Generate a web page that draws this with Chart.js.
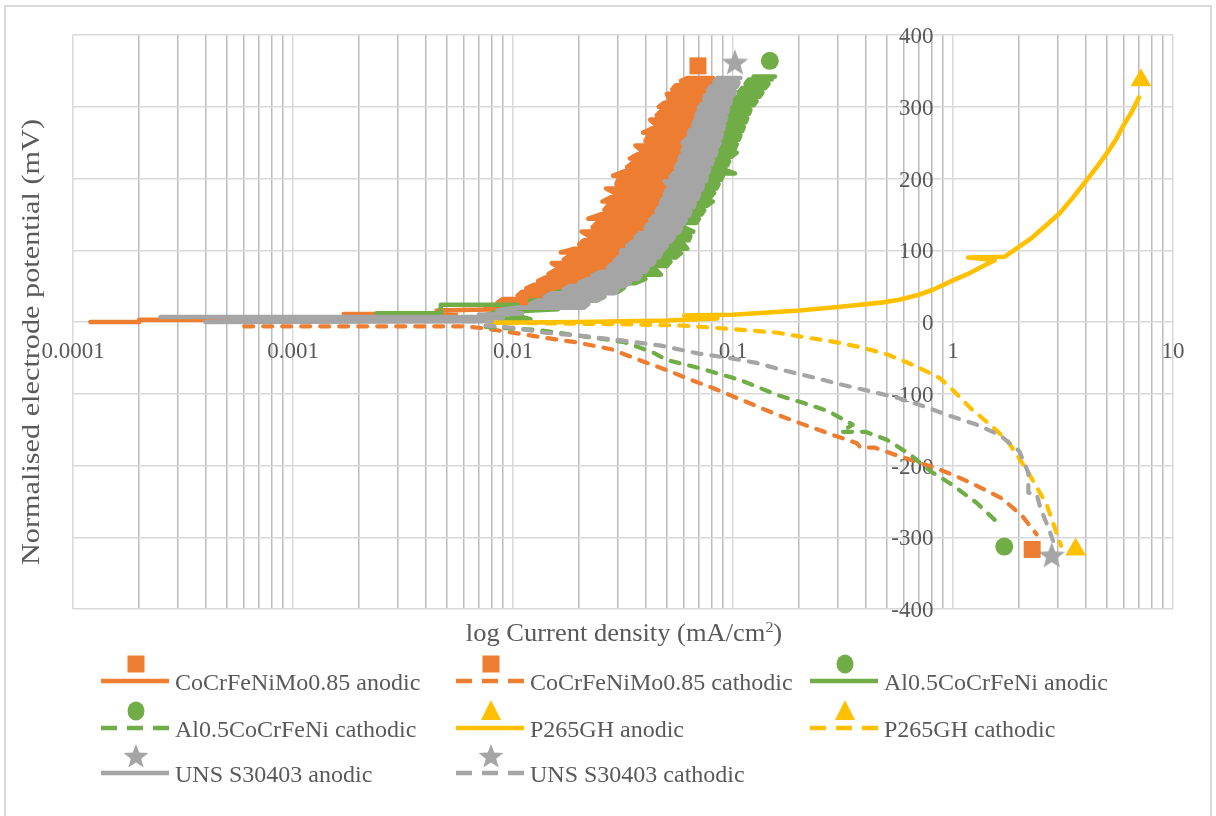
<!DOCTYPE html>
<html>
<head>
<meta charset="utf-8">
<script src="https://cdn.jsdelivr.net/npm/chart.js@4.4.1/dist/chart.umd.min.js"></script>
<style>
  html,body{margin:0;padding:0;background:#fff;}
  #wrap{position:relative;width:1216px;height:816px;overflow:hidden;font-family:'Liberation Serif','Times New Roman',serif;color:#595959;}
  #frame{position:absolute;left:4px;top:5px;width:1208px;height:840px;border:2px solid #d9d9d9;box-sizing:border-box;}
  canvas{position:absolute;left:0;top:0;}
  .title{position:absolute;font-size:25px;white-space:nowrap;line-height:30px;}
  .lg{position:absolute;font-size:24px;white-space:nowrap;line-height:28px;height:28px;}
  .lgicon{position:absolute;}
</style>
</head>
<body>
<div id="wrap">
  <div id="frame"></div>
  <canvas id="c" width="1216" height="816"></canvas>
  <div class="title" id="xt" style="left:624px;top:618px;transform:translateX(-50%) scaleX(1.06);">log Current density (mA/cm<sup style="font-size:15px;vertical-align:9px;line-height:0">2</sup>)</div>
  <div class="title" id="yt" style="left:31px;top:342px;transform:translate(-50%,-50%) rotate(-90deg) scaleX(1.21);">Normalised electrode potential (mV)</div>
  <div id="legend"></div>
</div>
<script>
// ---------- axis tick labels ----------
const xDecadeLabels = ['0.0001', '0.001', '0.01', '0.1', '1', '10'];
const yTickValues = [-400, -300, -200, -100, 0, 100, 200, 300, 400];

// ---------- series names ----------
const seriesNames = [
  'CoCrFeNiMo0.85 anodic', 'CoCrFeNiMo0.85 cathodic', 'Al0.5CoCrFeNi anodic',
  'Al0.5CoCrFeNi cathodic', 'P265GH anodic', 'P265GH cathodic',
  'UNS S30403 anodic', 'UNS S30403 cathodic'
];

// ---------- data: [current density mA/cm2, potential mV] ----------
const moAnodic = [
  [0.00012,0],[0.0002,0],[0.0002,3],[0.0004,3],[0.0048,3],[0.0017,11],[0.0026,11],[0.0055,12],[0.0045,16],[0.009,18],
  [0.0075,22],[0.016,22],[0.014,27],[0.0085,27],[0.009,32],[0.019,32],[0.020,37],[0.0105,37],[0.011,42],[0.022,42],
  [0.024,47],[0.0115,47],[0.0125,52],[0.026,52],[0.027,57],[0.013,57],[0.014,62],[0.029,62],[0.030,67],[0.0145,67],
  [0.0155,72],[0.031,72],[0.033,77],[0.016,77],[0.015,82],[0.032,82],[0.035,87],[0.017,87],[0.018,92],[0.036,92],
  [0.037,97],[0.0165,97],[0.019,102],[0.038,102],[0.039,108],[0.020,108],[0.021,114],[0.040,114],[0.042,120],[0.022,120],
  [0.0205,126],[0.043,126],[0.044,132],[0.023,132],[0.024,138],[0.045,138],[0.046,144],[0.022,144],[0.025,150],[0.047,150],
  [0.048,156],[0.026,156],[0.027,162],[0.049,162],[0.050,168],[0.0255,168],[0.028,174],[0.052,174],[0.053,180],[0.029,180],
  [0.0265,186],[0.054,186],[0.055,192],[0.0295,192],[0.030,198],[0.056,198],[0.057,204],[0.0285,204],[0.032,210],[0.058,210],
  [0.059,216],[0.033,216],[0.035,222],[0.060,222],[0.061,228],[0.034,228],[0.037,234],[0.062,234],[0.063,240],[0.038,240],
  [0.036,246],[0.064,246],[0.065,252],[0.040,252],[0.041,258],[0.066,258],[0.067,264],[0.039,264],[0.043,270],[0.068,270],
  [0.069,276],[0.044,276],[0.042,282],[0.070,282],[0.071,288],[0.045,288],[0.047,294],[0.072,294],[0.073,300],[0.046,300],
  [0.049,306],[0.074,306],[0.075,312],[0.051,312],[0.050,318],[0.076,318],[0.078,324],[0.053,324],[0.055,330],[0.079,330],
  [0.080,336],[0.058,336],[0.062,340],[0.081,340]
];
const moCathodic = [
  [0.0006,-6],[0.003,-6],[0.006,-6],[0.0075,-9],[0.01,-15],[0.014,-22],[0.02,-29],[0.028,-38],[0.039,-55],[0.05,-67],
  [0.066,-82],[0.081,-92],[0.097,-102],[0.123,-115],[0.158,-129],[0.21,-143],[0.27,-155],[0.366,-169],[0.38,-175],[0.44,-175],
  [0.57,-187],[0.79,-201],[1.0,-213],[1.28,-228],[1.67,-246],[2.06,-270],[2.4,-296]
];
const alAnodic = [
  [0.0024,12],[0.0047,12],[0.0047,24],[0.0105,24],[0.007,6],[0.012,4],[0.009,14],[0.016,18],
  [0.012,30],[0.024,30],[0.026,36],[0.014,36],[0.016,42],[0.030,42],[0.032,48],[0.019,48],[0.021,54],[0.036,54],
  [0.040,60],[0.024,60],[0.026,66],[0.047,66],[0.045,72],[0.028,72],[0.030,78],[0.050,78],[0.052,84],[0.032,84],
  [0.034,90],[0.055,90],[0.058,96],[0.036,96],[0.037,102],[0.062,102],[0.060,108],[0.039,108],[0.041,114],[0.063,114],
  [0.064,120],[0.043,120],[0.044,126],[0.066,126],[0.060,132],[0.046,132],[0.048,138],[0.068,138],[0.070,144],[0.050,144],
  [0.051,150],[0.072,150],[0.074,156],[0.053,156],[0.055,162],[0.076,162],[0.081,168],[0.056,168],[0.058,174],[0.079,174],
  [0.082,180],[0.060,180],[0.061,186],[0.084,186],[0.086,192],[0.063,192],[0.064,198],[0.088,198],[0.090,204],[0.066,204],
  [0.068,207],[0.102,207],[0.092,212],[0.068,212],[0.070,218],[0.094,218],[0.096,224],[0.072,224],[0.074,230],[0.098,230],
  [0.104,236],[0.076,236],[0.078,242],[0.102,242],[0.104,248],[0.080,248],[0.082,254],[0.106,254],[0.108,260],[0.084,260],
  [0.086,266],[0.110,266],[0.112,272],[0.088,272],[0.090,278],[0.114,278],[0.116,284],[0.092,284],[0.094,290],[0.118,290],
  [0.120,296],[0.096,296],[0.098,302],[0.124,302],[0.128,308],[0.100,308],[0.103,314],[0.132,314],[0.136,320],[0.106,320],
  [0.110,326],[0.140,326],[0.145,332],[0.114,332],[0.118,338],[0.150,338],[0.124,342],[0.155,342]
];
const alCathodic = [
  [0.0075,-7],[0.013,-11],[0.022,-21],[0.032,-28],[0.043,-42],[0.05,-53],[0.07,-64],[0.108,-81],[0.16,-102],[0.21,-113],
  [0.27,-124],[0.35,-143],[0.31,-153],[0.4,-153],[0.5,-164],[0.64,-185],[0.79,-208],[0.97,-225],[1.28,-252],[1.6,-280]
];
const p265Anodic = [
  [0.0078,-1],[0.02,0],[0.05,2],[0.085,5],[0.06,9],[0.1,10],[0.2,16],[0.3,21],[0.47,27],[0.57,31],
  [0.7,38],[0.81,45],[1.0,58],[1.17,67],[1.33,76],[1.55,86],[1.17,90],[1.72,91],[2.0,105],[2.3,118],
  [2.7,137],[3.06,152],[3.5,173],[4.06,198],[4.5,216],[5.0,235],[5.5,254],[5.9,272],[6.5,293],[7.0,313]
];
const p265Cathodic = [
  [0.0078,-1],[0.03,-3],[0.06,-5],[0.1,-10],[0.16,-15],[0.2,-20],[0.28,-27],[0.38,-35],[0.5,-45],[0.66,-60],
  [0.87,-78],[1.0,-95],[1.2,-120],[1.5,-145],[1.76,-165],[2.0,-190],[2.2,-210],[2.4,-230],[2.67,-255],[2.85,-280],
  [3.0,-300],[3.1,-312]
];
const unsAnodic = [
  [0.00025,7],[0.0075,7],[0.0004,0],[0.008,1],[0.006,4],[0.009,6],[0.007,10],[0.011,12],[0.0085,16],
  [0.0105,20],[0.021,20],[0.022,25],[0.012,25],[0.013,30],[0.024,30],[0.026,35],[0.014,35],[0.015,40],[0.029,40],
  [0.030,45],[0.017,45],[0.018,50],[0.032,50],[0.034,55],[0.020,55],[0.022,60],[0.037,60],[0.038,65],[0.023,65],
  [0.025,70],[0.040,70],[0.041,75],[0.027,75],[0.028,80],[0.043,80],[0.044,85],[0.029,85],[0.030,90],[0.046,90],
  [0.047,95],[0.031,95],[0.031,100],[0.048,100],[0.050,106],[0.033,106],[0.035,112],[0.052,112],[0.054,118],[0.036,118],
  [0.038,124],[0.056,124],[0.058,130],[0.040,130],[0.041,136],[0.059,136],[0.061,142],[0.042,142],[0.044,148],[0.063,148],
  [0.064,154],[0.045,154],[0.046,160],[0.066,160],[0.067,166],[0.047,166],[0.048,172],[0.069,172],[0.070,178],[0.049,178],
  [0.050,184],[0.072,184],[0.073,190],[0.051,190],[0.049,196],[0.075,196],[0.076,202],[0.052,202],[0.054,208],[0.077,208],
  [0.078,214],[0.055,214],[0.056,220],[0.080,220],[0.081,226],[0.057,226],[0.058,232],[0.083,232],[0.084,238],[0.059,238],
  [0.060,244],[0.085,244],[0.087,250],[0.059,250],[0.062,256],[0.088,256],[0.089,262],[0.063,262],[0.064,268],[0.090,268],
  [0.091,274],[0.066,274],[0.067,280],[0.092,280],[0.093,286],[0.068,286],[0.069,292],[0.094,292],[0.095,298],[0.070,298],
  [0.072,304],[0.097,304],[0.098,310],[0.074,310],[0.075,316],[0.100,316],[0.102,322],[0.077,322],[0.079,328],[0.104,328],
  [0.106,334],[0.082,334],[0.085,340],[0.108,340]
];
const unsCathodic = [
  [0.0075,-5],[0.01,-8],[0.014,-15],[0.02,-19],[0.03,-25],[0.047,-33],[0.07,-44],[0.1,-51],[0.128,-57],[0.168,-67],
  [0.23,-77],[0.3,-86],[0.4,-95],[0.55,-105],[0.73,-117],[0.97,-131],[1.28,-143],[1.64,-158],[2.0,-180],[2.2,-210],
  [2.2,-238],[2.4,-240],[2.5,-260],[2.7,-285],[2.85,-305]
];

// end-point markers [anodic end marker, cathodic end marker]
const moMarkers = [[0.0693,357],[2.29,-317]];
const alMarkers = [[0.147,364],[1.71,-313]];
const p265Markers = [[7.15,337],[3.61,-317]];
const unsMarkers = [[0.102,362],[2.81,-325]];

// ---------- styling ----------
const ORANGE = '#ED7D31', GREEN = '#70AD47', YELLOW = '#FFC000', GRAY = '#A5A5A5';
const TEXT = '#595959';
const FONT = "'Liberation Serif','Times New Roman',serif";

function pts(arr){ return arr.map(p => ({x:p[0], y:p[1]})); }

function starPath(ctx, cx, cy, R){
  const r = R * 0.42;
  ctx.beginPath();
  for (let i = 0; i < 10; i++){
    const ang = -Math.PI/2 + i * Math.PI/5;
    const rad = i % 2 === 0 ? R : r;
    const px = cx + rad * Math.cos(ang), py = cy + rad * Math.sin(ang);
    if (i === 0) ctx.moveTo(px, py); else ctx.lineTo(px, py);
  }
  ctx.closePath();
}
const starImg = document.createElement('canvas');
starImg.width = 28; starImg.height = 28;
(function(){ const g = starImg.getContext('2d'); g.fillStyle = GRAY; starPath(g, 14, 15, 14); g.fill(); })();

function lineDs(label, data, color, dashed, order){
  return {
    label, data: pts(data), showLine: true, borderColor: color, backgroundColor: color,
    borderWidth: dashed ? 4.2 : 4.6, borderDash: dashed ? [9, 10] : [],
    borderCapStyle: 'round', borderJoinStyle: 'round',
    pointRadius: 0, pointHoverRadius: 0, tension: 0, order
  };
}
function markerDs(label, data, color, style, radius){
  return {
    label, data: pts(data), showLine: false, pointStyle: style, pointRadius: radius,
    pointHoverRadius: radius, pointBackgroundColor: color, pointBorderColor: color, pointBorderWidth: 0, order: 0
  };
}

const datasets = [
  lineDs(seriesNames[0], moAnodic, ORANGE, false, 8),
  lineDs(seriesNames[1], moCathodic, ORANGE, true, 7),
  lineDs(seriesNames[2], alAnodic, GREEN, false, 6),
  lineDs(seriesNames[3], alCathodic, GREEN, true, 5),
  lineDs(seriesNames[4], p265Anodic, YELLOW, false, 4),
  lineDs(seriesNames[5], p265Cathodic, YELLOW, true, 3),
  lineDs(seriesNames[6], unsAnodic, GRAY, false, 2),
  lineDs(seriesNames[7], unsCathodic, GRAY, true, 1),
  markerDs('m1', moMarkers, ORANGE, 'rect', 12),
  markerDs('m2', alMarkers, GREEN, 'circle', 9),
  markerDs('m3', p265Markers, YELLOW, 'triangle', 12),
  markerDs('m4', unsMarkers, GRAY, starImg, 14)
];

function isDecade(v){ const l = Math.log10(v); return Math.abs(l - Math.round(l)) < 1e-9; }

new Chart(document.getElementById('c'), {
  type: 'scatter',
  data: { datasets },
  options: {
    responsive: false, animation: false, devicePixelRatio: 1,
    layout: { padding: { left: 73, top: 35, right: 43, bottom: 207 } },
    plugins: { legend: { display: false }, tooltip: { enabled: false } },
    scales: {
      x: {
        type: 'logarithmic', min: 0.0001, max: 10,
        position: { y: 0 },
        afterBuildTicks: (scale) => {
          const t = [];
          for (let e = -4; e <= 1; e++){
            for (let m = 1; m <= 9; m++){
              const v = parseFloat((m * Math.pow(10, e)).toPrecision(6));
              if (v <= 10 + 1e-12) t.push({ value: v, major: m === 1 });
              if (e === 1) break;
            }
          }
          scale.ticks = t;
        },
        ticks: {
          autoSkip: false, maxRotation: 0, minRotation: 0, padding: 16,
          color: TEXT, font: { family: FONT, size: 23 },
          callback: (v) => {
            if (!isDecade(v)) return '';
            const idx = Math.round(Math.log10(v)) + 4;
            return xDecadeLabels[idx];
          }
        },
        grid: {
          drawTicks: false, lineWidth: 1.5,
          color: (ctx) => (ctx.tick && isDecade(ctx.tick.value)) ? '#d9d9d9' : '#bcbcbc'
        },
        border: { display: false }
      },
      y: {
        type: 'linear', min: -400, max: 400,
        position: { x: 0.815 },
        afterBuildTicks: (scale) => { scale.ticks = yTickValues.map(v => ({ value: v })); },
        ticks: {
          padding: 0, labelOffset: 2, color: TEXT,
          font: { family: FONT, size: 23 },
          callback: (v) => String(v)
        },
        grid: { drawTicks: false, color: '#d9d9d9', lineWidth: 1.5 },
        border: { display: false }
      }
    }
  }
});

// ---------- HTML legend ----------
const legendColors = [ORANGE, ORANGE, GREEN, GREEN, YELLOW, YELLOW, GRAY, GRAY];
const legendMarkers = ['rect', 'rect', 'circle', 'circle', 'triangle', 'triangle', 'star', 'star'];
const lineStartX = [101, 456, 810];
const textStartX = [175, 530, 884];
const rowLineY = [681, 728, 773];
const legend = document.getElementById('legend');

function markerSvg(type, color){
  const cx = 35, cy = 13;
  if (type === 'rect') return `<rect x="${cx-8.5}" y="${cy-8.5}" width="17" height="17" fill="${color}"/>`;
  if (type === 'circle') return `<ellipse cx="${cx}" cy="${cy}" rx="8.5" ry="9.5" fill="${color}"/>`;
  if (type === 'triangle') return `<polygon points="${cx},${cy-11} ${cx+10},${cy+9} ${cx-10},${cy+9}" fill="${color}"/>`;
  const p = [];
  for (let i = 0; i < 10; i++){
    const ang = -Math.PI/2 + i*Math.PI/5, rad = i % 2 === 0 ? 13 : 5.5;
    p.push((cx + rad*Math.cos(ang)).toFixed(2) + ',' + (cy + 1 + rad*Math.sin(ang)).toFixed(2));
  }
  return `<polygon points="${p.join(' ')}" fill="${color}"/>`;
}

seriesNames.forEach((name, i) => {
  const row = Math.floor(i / 3), col = i % 3;
  const ly = rowLineY[row];
  const dashed = i % 2 === 1;
  const svg = document.createElementNS('http://www.w3.org/2000/svg', 'svg');
  svg.setAttribute('class', 'lgicon');
  svg.setAttribute('width', '70'); svg.setAttribute('height', '36');
  svg.style.left = lineStartX[col] + 'px';
  svg.style.top = (ly - 30) + 'px';
  svg.innerHTML = markerSvg(legendMarkers[i], legendColors[i]) +
    `<line x1="0" y1="30" x2="68" y2="30" stroke="${legendColors[i]}" stroke-width="4.5"` +
    (dashed ? ` stroke-dasharray="16 10"` : '') + `/>`;
  legend.appendChild(svg);
  const t = document.createElement('div');
  t.className = 'lg';
  t.textContent = name;
  t.style.left = textStartX[col] + 'px';
  t.style.top = (ly - 13) + 'px';
  legend.appendChild(t);
});
</script>
</body>
</html>
